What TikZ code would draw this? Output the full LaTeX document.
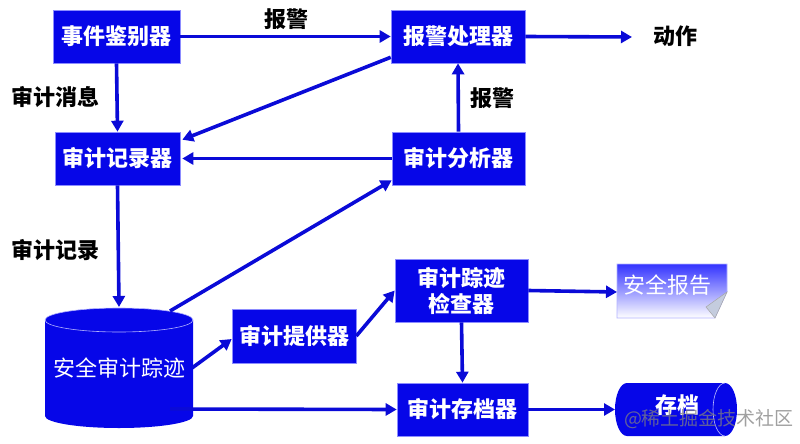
\documentclass[tikz,border=0pt]{standalone}
\usepackage{fontspec}
\setmainfont{Noto Sans CJK SC}
\usetikzlibrary{arrows.meta,calc}
\definecolor{boxblue}{RGB}{6,6,232}
\definecolor{lineblue}{RGB}{10,10,215}
\definecolor{foldgrey}{RGB}{196,204,222}
\begin{document}
\begin{tikzpicture}[x=1pt,y=-1pt,
  box/.style={rectangle,fill=boxblue,draw=blue!45,line width=0.6pt,text=white,
    font=\fontsize{22}{26}\selectfont\bfseries,inner sep=0pt,align=center},
  lbl/.style={text=black,font=\fontsize{22}{26}\selectfont\bfseries,inner sep=0pt},
  conn/.style={draw=lineblue,line width=3.6pt,-{Triangle[length=11pt,width=12pt]}},
]
\useasboundingbox (0,0) rectangle (800,444);

% boxes
\node[box,minimum width=127pt,minimum height=53pt] (A) at (116.5,36.5) {事件鉴别器};
\node[box,minimum width=134pt,minimum height=53pt] (B) at (458,36.5) {报警处理器};
\node[box,minimum width=125pt,minimum height=53pt] (C) at (117.5,158.5) {审计记录器};
\node[box,minimum width=133pt,minimum height=53pt] (D) at (458.5,158.5) {审计分析器};
\node[box,minimum width=124pt,minimum height=54pt] (E) at (294,336) {审计提供器};
\node[box,minimum width=133pt,minimum height=63pt] (F) at (461.5,290.5) {审计踪迹\\检查器};
\node[box,minimum width=131pt,minimum height=53pt] (G) at (462.5,409.5) {审计存档器};

% cylinder: security audit trail
\fill[boxblue] (45,320) -- (45,416) arc (180:0:74 and 12) -- (193,320) arc (0:-180:74 and 12) -- cycle;
\draw[blue!30,line width=0.6pt] (119,320) ellipse (74 and 12);
\node[text=white,font=\fontsize{22}{26}\selectfont,inner sep=0pt] (T) at (119,368) {安全审计踪迹};
\coordinate (Ttop) at (119,307);
\coordinate (Tur) at (170,311);
\coordinate (Tr) at (192,368);
\coordinate (Tb) at (170,409);

% security report document
\shade[top color=blue!80,bottom color=white,draw=blue!30,line width=0.6pt]
  (617,264) -- (727,264) -- (727,292) -- (715,318) -- (617,318) -- cycle;
\filldraw[fill=foldgrey,draw=gray!70,line width=0.5pt] (727,292) -- (706,307) -- (715,318) -- cycle;
\node[text=white,font=\fontsize{22}{26}\selectfont,inner sep=0pt] (R) at (667,285) {安全报告};
\coordinate (Rw) at (617,292);

% archive horizontal cylinder
\fill[boxblue] (627,383) -- (725,383) arc (-90:90:12 and 26.5) -- (627,436) arc (90:270:12 and 26.5) -- cycle;
\draw[blue!25,line width=0.6pt] (725,383) arc (-90:-270:12 and 26.5);
\node[text=white,font=\fontsize{22}{26}\selectfont\bfseries,inner sep=0pt] (S) at (677,405) {存档};
\coordinate (Sw) at (615,409.5);

% action endpoint
\coordinate (act) at (632,37);
\node[lbl] (actlbl) at (675,36) {动作};

% labels
\node[lbl] (l1) at (286,19) {报警};
\node[lbl] (l2) at (55,97) {审计消息};
\node[lbl] (l3) at (492,98) {报警};
\node[lbl] (l4) at (55,250) {审计记录};

% connectors
\draw[conn] (A.east) -- (B.west);
\draw[conn] (B.east) -- (act);
\draw[conn] (A.south) -- (C.north);
\draw[conn] ($(B.south west)+(0,-6)$) -- ($(C.north east)+(2,8)$);
\draw[conn] (D.west) -- ($(C.east)+(2,0)$);
\draw[conn] (D.north) -- (B.south);
\draw[conn] (C.south) -- (Ttop);
\draw[conn] (Tur) -- ($(D.south west)+(0,-5)$);
\draw[conn] (Tr) -- ($(E.west)+(0,3)$);
\draw[conn] (E.east) -- (F.west);
\draw[conn] (Tb) -- (G.west);
\draw[conn] (F.south) -- (G.north);
\draw[conn] (F.east) -- (Rw);
\draw[conn] (G.east) -- (Sw);

% watermark
\node[text=gray,opacity=0.75,font=\fontsize{19}{22}\selectfont,inner sep=0pt] (wm) at (709,419) {@稀土掘金技术社区};
\end{tikzpicture}
\end{document}
